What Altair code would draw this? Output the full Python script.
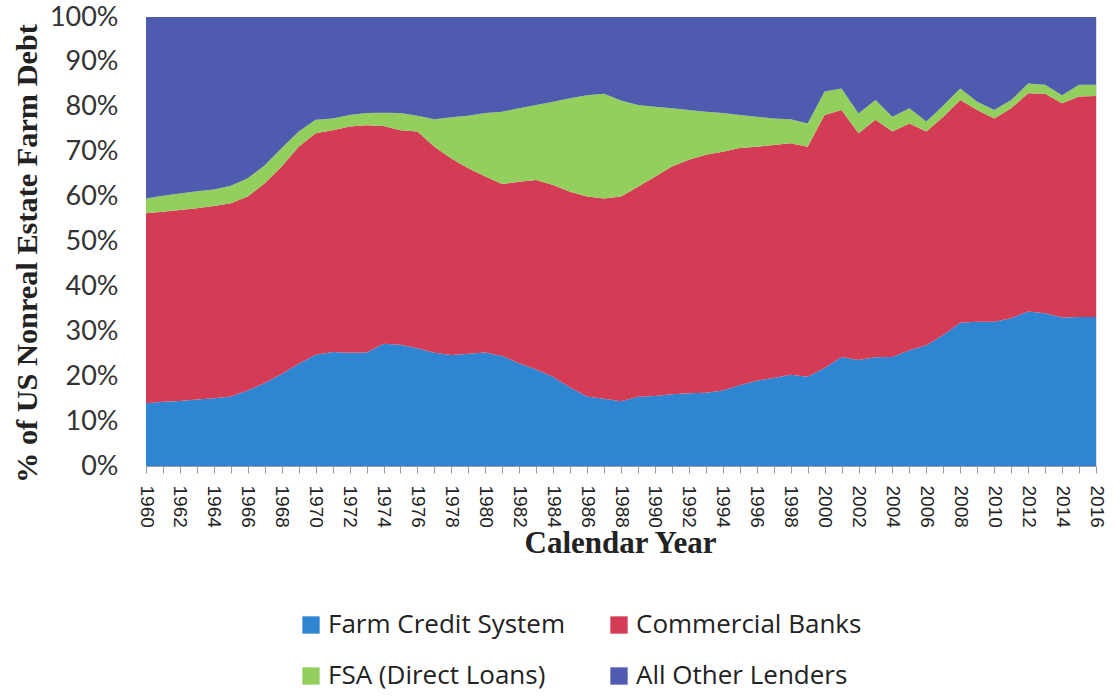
import altair as alt
import pandas as pd

years = list(range(1960, 2017))

farm_credit = [14.0, 14.3, 14.5, 14.8, 15.1, 15.5, 16.8, 18.5, 20.5, 22.8,
               24.8, 25.4, 25.2, 25.3, 27.2, 27.0, 26.2, 25.2, 24.7, 25.0,
               25.3, 24.5, 22.9, 21.5, 19.8, 17.5, 15.5, 15.0, 14.4, 15.4,
               15.6, 16.0, 16.2, 16.3, 16.8, 18.0, 19.0, 19.6, 20.3, 19.9,
               21.8, 24.3, 23.6, 24.2, 24.3, 25.8, 26.9, 29.2, 31.9, 32.1,
               32.1, 32.9, 34.4, 34.0, 33.1, 33.2, 33.2]

commercial_banks = [42.3, 42.3, 42.5, 42.6, 42.8, 43.0, 43.2, 44.5, 46.2, 48.3,
                    49.3, 49.4, 50.4, 50.6, 48.5, 47.8, 48.3, 45.9, 43.8, 41.3,
                    39.2, 38.3, 40.4, 42.2, 42.8, 43.6, 44.5, 44.6, 45.6, 46.8,
                    48.8, 50.7, 52.0, 53.0, 53.2, 52.8, 52.1, 51.9, 51.6, 51.2,
                    56.4, 55.0, 50.5, 52.9, 50.2, 50.5, 47.6, 48.6, 49.6, 47.2,
                    45.3, 46.8, 48.6, 48.9, 47.7, 49.1, 49.2]

fsa_direct = [3.3, 3.6, 3.7, 3.8, 3.7, 3.9, 4.1, 4.0, 4.1, 3.4,
              3.0, 2.6, 2.6, 2.7, 3.0, 3.8, 3.5, 6.1, 9.2, 11.7,
              14.1, 16.1, 16.4, 16.7, 18.5, 20.8, 22.6, 23.3, 21.4, 18.2,
              15.6, 13.0, 11.1, 9.6, 8.6, 7.4, 6.7, 5.9, 5.3, 5.2,
              5.2, 4.8, 4.4, 4.4, 3.3, 3.4, 2.2, 2.5, 2.6, 1.8,
              1.9, 1.8, 2.2, 2.0, 1.8, 2.6, 2.5]

all_other = [40.4, 39.8, 39.3, 38.8, 38.4, 37.6, 35.9, 33.0, 29.2, 25.5,
             22.9, 22.6, 21.8, 21.4, 21.3, 21.4, 22.0, 22.8, 22.3, 22.0,
             21.4, 21.1, 20.3, 19.6, 18.9, 18.1, 17.4, 17.1, 18.6, 19.6,
             20.0, 20.3, 20.7, 21.1, 21.4, 21.8, 22.2, 22.6, 22.8, 23.7,
             16.6, 15.9, 21.5, 18.5, 22.2, 20.3, 23.3, 19.7, 15.9, 18.9,
             20.7, 18.5, 14.8, 15.1, 17.4, 15.1, 15.1]

series_names = ["Farm Credit System", "Commercial Banks", "FSA (Direct Loans)", "All Other Lenders"]
series_colors = ["#2E86D2", "#D43B55", "#93CF5C", "#4E5BAE"]
series_values = [farm_credit, commercial_banks, fsa_direct, all_other]

rows = []
for k, (name, vals) in enumerate(zip(series_names, series_values)):
    for yr, v in zip(years, vals):
        rows.append({"year": yr, "lender": name, "share": v / 100.0, "ord": k})
df = pd.DataFrame(rows)

chart = alt.Chart(df).mark_area(opacity=1, interpolate="linear").encode(
    x=alt.X("year:Q",
            scale=alt.Scale(domain=[1960, 2016], nice=False, zero=False),
            axis=alt.Axis(values=years,
                          labelExpr="datum.value % 2 == 0 ? datum.value + '' : ''",
                          labelAngle=90, labelAlign="left", labelBaseline="middle",
                          labelFont="Liberation Sans", labelFontSize=19, labelColor="#222222",
                          labelPadding=12, tickSize=7, tickColor="#999999",
                          domainColor="#999999", grid=False,
                          labelOverlap=False, labelFlush=False,
                          title="Calendar Year", titleFont="Liberation Serif",
                          titleFontSize=31, titleFontWeight="bold", titleColor="#222222",
                          titleX=474, titleY=77, titleBaseline="middle", titleAlign="center")),
    y=alt.Y("share:Q", stack="zero",
            scale=alt.Scale(domain=[0, 1], nice=False),
            axis=alt.Axis(format=".0%", values=[i / 10 for i in range(11)],
                          labelFont="Lato", labelFontSize=27, labelColor="#333333",
                          labelPadding=28, tickSize=0, domainColor="#999999", grid=False,
                          title="% of US  Nonreal Estate Farm Debt",
                          titleFont="Liberation Serif", titleFontSize=30.3,
                          titleFontWeight="bold", titleColor="#222222",
                          titleX=-119, titleY=236, titleAngle=270,
                          titleBaseline="middle", titleAlign="center")),
    color=alt.Color("lender:N",
                    scale=alt.Scale(domain=series_names, range=series_colors),
                    legend=alt.Legend(orient="none", legendX=152, legendY=595,
                                      direction="horizontal",
                                      columns=2, title=None, symbolType="square",
                                      symbolSize=300, symbolStrokeWidth=0,
                                      labelFont="Open Sans", labelFontSize=26,
                                      labelColor="#222222", labelLimit=400,
                                      columnPadding=40, rowPadding=25,
                                      labelOffset=4)),
    order=alt.Order("ord:Q"),
).properties(
    width=950, height=449,
    autosize=alt.AutoSizeParams(type="none"),
    padding={"left": 146, "top": 17, "right": 24, "bottom": 230},
).configure_view(stroke=None).configure(background="white")

chart.save("out.html", embed_options={"renderer": "svg", "actions": False})
